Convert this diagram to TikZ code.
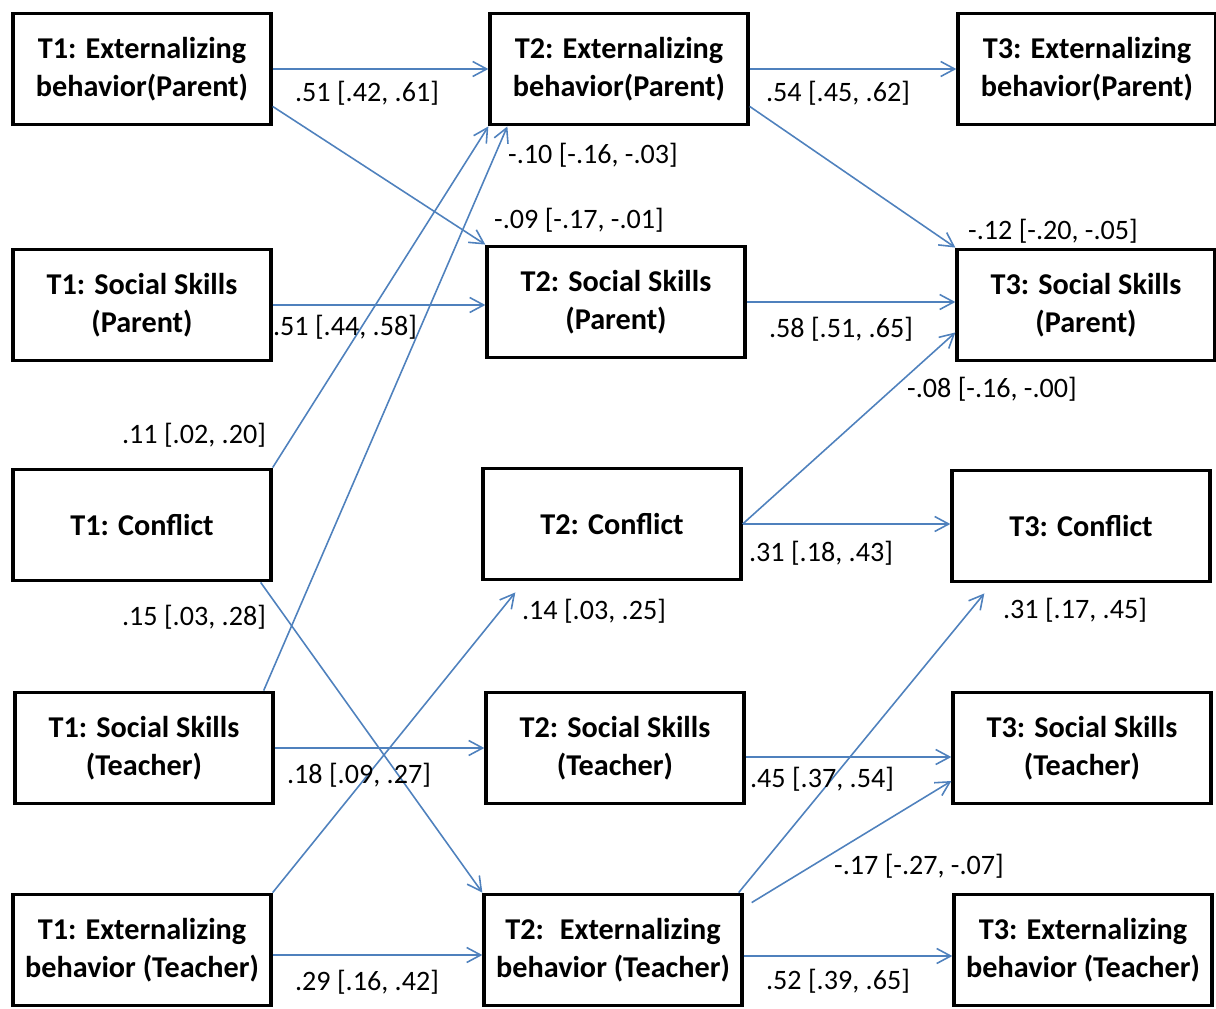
\documentclass[tikz,border=0pt]{standalone}
\usepackage{fontspec}
\setmainfont{Carlito}
\usetikzlibrary{arrows.meta}
\definecolor{linkblue}{RGB}{79,129,189}
\begin{document}
\begin{tikzpicture}[x=0.02cm,y=-0.02cm,
		box/.style={draw, line width=2.2pt, minimum width=5.15cm, minimum height=2.22cm, inner sep=0pt, align=center, font=\fontsize{17.2}{21.5}\selectfont\bfseries},
		link/.style={linkblue, line width=0.9pt, -{Straight Barb[length=0.28cm,width=0.3cm]}},
		coef/.style={inner sep=0pt, font=\fontsize{16}{18}\selectfont}]
	\useasboundingbox (0,0) rectangle (1216,1008);
	% time 1
	\node [box] (t1ep) at (142,69) {T1: Externalizing\\behavior(Parent)};
	\node [box] (t1sp) at (142,305) {T1: Social Skills\\(Parent)};
	\node [box] (t1c) at (142,525) {T1: Conflict};
	\node [box] (t1st) at (144,748) {T1: Social Skills\\(Teacher)};
	\node [box] (t1et) at (142,950) {T1: Externalizing\\behavior (Teacher)};
	% time 2
	\node [box] (t2ep) at (619,69) {T2: Externalizing\\behavior(Parent)};
	\node [box] (t2sp) at (616,302) {T2: Social Skills\\(Parent)};
	\node [box] (t2c) at (612,524) {T2: Conflict};
	\node [box] (t2st) at (615,748) {T2: Social Skills\\(Teacher)};
	\node [box] (t2et) at (613,950) {T2:~ Externalizing\\behavior (Teacher)};
	% time 3
	\node [box] (t3ep) at (1087,69) {T3: Externalizing\\behavior(Parent)};
	\node [box] (t3sp) at (1086,305) {T3: Social Skills\\(Parent)};
	\node [box] (t3c) at (1081,526) {T3: Conflict};
	\node [box] (t3st) at (1082,748) {T3: Social Skills\\(Teacher)};
	\node [box] (t3et) at (1083,950) {T3: Externalizing\\behavior (Teacher)};
	% paths T1 -> T2
	\draw [link] (t1ep.east) -- (t1ep.east -| t2ep.west);
	\draw [link] ([yshift=0.4cm]t1ep.south east) -- (t2sp.north west);
	\draw [link] (t1sp.east) -- (t1sp.east -| t2sp.west);
	\draw [link] (t1c.north east) -- (t2ep.south west);
	\draw [link] ([xshift=-0.22cm]t1st.north east) -- ([xshift=0.38cm]t2ep.south west);
	\draw [link] ([xshift=-0.24cm]t1c.south east) -- (t2et.north west);
	\draw [link] (t1st.east) -- (t1st.east -| t2st.west);
	\draw [link] (t1et.north east) -- ([xshift=0.68cm,yshift=-0.22cm]t2c.south west);
	\draw [link] ([yshift=-0.1cm]t1et.east) -- ([yshift=-0.1cm]t1et.east -| t2et.west);
	% paths T2 -> T3
	\draw [link] (t2ep.east) -- (t2ep.east -| t3ep.west);
	\draw [link] ([yshift=0.4cm]t2ep.south east) -- (t3sp.north west);
	\draw [link] (t2sp.east) -- (t2sp.east -| t3sp.west);
	\draw [link] (t2c.east) -- ([yshift=0.6cm]t3sp.south west);
	\draw [link] (t2c.east) -- (t2c.east -| t3c.west);
	\draw [link] ([xshift=-0.1cm]t2et.north east) -- ([xshift=0.68cm,yshift=-0.2cm]t3c.south west);
	\draw [link] ([yshift=-0.18cm]t2st.east) -- ([yshift=-0.18cm]t2st.east -| t3st.west);
	\draw [link] ([xshift=0.16cm,yshift=-0.2cm]t2et.north east) -- ([yshift=-0.66cm]t3st.west);
	\draw [link] ([yshift=-0.12cm]t2et.east) -- ([yshift=-0.12cm]t2et.east -| t3et.west);
	% coefficients
	\node [coef] (c1) at (367,93) {.51 [.42, .61]};
	\node [coef] (c2) at (579,220) {-.09 [-.17, -.01]};
	\node [coef] (c3) at (345,327) {.51 [.44, .58]};
	\node [coef] (c4) at (194,435) {.11 [.02, .20]};
	\node [coef] (c5) at (593,155) {-.10 [-.16, -.03]};
	\node [coef] (c6) at (194,617) {.15 [.03, .28]};
	\node [coef] (c7) at (359,775) {.18 [.09, .27]};
	\node [coef] (c8) at (594,611) {.14 [.03, .25]};
	\node [coef] (c9) at (367,982) {.29 [.16, .42]};
	\node [coef] (c10) at (838,93) {.54 [.45, .62]};
	\node [coef] (c11) at (1053,231) {-.12 [-.20, -.05]};
	\node [coef] (c12) at (841,329) {.58 [.51, .65]};
	\node [coef] (c13) at (992,389) {-.08 [-.16, -.00]};
	\node [coef] (c14) at (821,553) {.31 [.18, .43]};
	\node [coef] (c15) at (1075,610) {.31 [.17, .45]};
	\node [coef] (c16) at (822,779) {.45 [.37, .54]};
	\node [coef] (c17) at (919,866) {-.17 [-.27, -.07]};
	\node [coef] (c18) at (838,981) {.52 [.39, .65]};
\end{tikzpicture}
\end{document}
